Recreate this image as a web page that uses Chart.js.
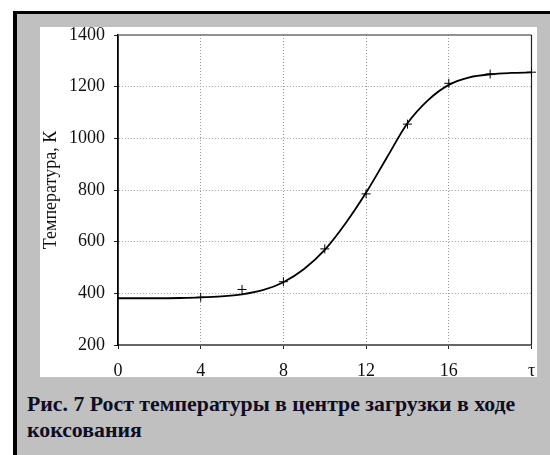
<!DOCTYPE html>
<html>
<head>
<meta charset="utf-8">
<script src="https://cdn.jsdelivr.net/npm/chart.js@4/dist/chart.umd.min.js"></script>
<style>
  html, body { margin: 0; padding: 0; background: #ffffff; }
  #page { position: relative; width: 550px; height: 455px; overflow: hidden; background: #ffffff; }
  #frameTop { position: absolute; left: 13px; top: 11px; width: 537px; height: 3px; background: #000; }
  #frameLeft { position: absolute; left: 13px; top: 11px; width: 4px; height: 444px; background: #000; }
  #panel { position: absolute; left: 17px; top: 14px; width: 533px; height: 441px; background: #c0c0c0; }
  #plotBox { position: absolute; left: 40px; top: 27px; width: 497px; height: 350px; background: #ffffff; overflow: hidden; }
  #caption {
    position: absolute; left: 27px; top: 391px; width: 523px;
    font-family: "Liberation Serif", "Times New Roman", serif; font-weight: bold;
    font-size: 21.8px; line-height: 26px; color: #0d0d24; white-space: nowrap;
  }
</style>
</head>
<body>
<div id="page">
  <div id="panel"></div>
  <div id="frameTop"></div>
  <div id="frameLeft"></div>
  <div id="plotBox"><canvas id="chart" width="497" height="350"></canvas></div>
  <div id="caption">Рис. 7 Рост температуры в центре загрузки в ходе<br>коксования</div>
</div>
<script>
// Smoothed temperature curve, time τ (h) vs temperature (K)
const tauCurve  = [0, 1, 2, 3, 4, 5, 6, 7, 8, 9, 10, 11, 12, 13, 14, 15, 16, 17, 18, 19, 20];
const tempCurve = [381, 381, 381, 382, 384, 388, 396, 412, 443, 494, 568, 670, 790, 925, 1058, 1148, 1207, 1236, 1248, 1253, 1255];

// Measured temperatures
const tauMeasured  = [4, 6, 8, 10, 12, 14, 16, 18, 20];
const tempMeasured = [385, 415, 445, 572, 785, 1055, 1213, 1249, 1256];

// Axis ticks
const xTickValues = [0, 4, 8, 12, 16, 20];
const xTickLabels = ['0', '4', '8', '12', '16', 'τ'];
const yTickValues = [200, 400, 600, 800, 1000, 1200, 1400];

const axisTitle = 'Температура, К';
const serif = '"Liberation Serif", "Times New Roman", serif';

const curvePoints = tauCurve.map((t, i) => ({ x: t, y: tempCurve[i] }));
const measuredPoints = tauMeasured.map((t, i) => ({ x: t, y: tempMeasured[i] }));

// Top and right frame lines of the plot area
const plotFrame = {
  id: 'plotFrame',
  beforeDatasetsDraw(chart) {
    const { ctx, chartArea: a } = chart;
    ctx.save();
    ctx.strokeStyle = '#6e6e6e';
    ctx.lineWidth = 1.5;
    ctx.beginPath();
    ctx.moveTo(a.left, a.top);
    ctx.lineTo(a.right, a.top);
    ctx.stroke();
    ctx.strokeStyle = '#222';
    ctx.lineWidth = 1.2;
    ctx.beginPath();
    ctx.moveTo(a.right, a.top);
    ctx.lineTo(a.right, a.bottom);
    ctx.stroke();
    ctx.restore();
  }
};

const xMin = xTickValues[0], xMax = xTickValues[xTickValues.length - 1];
const yMin = yTickValues[0], yMax = yTickValues[yTickValues.length - 1];

new Chart(document.getElementById('chart'), {
  type: 'scatter',
  data: {
    datasets: [
      {
        type: 'line',
        label: 'curve',
        data: curvePoints,
        borderColor: '#000',
        borderWidth: 1.8,
        pointRadius: 0,
        fill: false,
        cubicInterpolationMode: 'monotone',
        order: 2
      },
      {
        label: 'measured',
        data: measuredPoints,
        pointStyle: 'cross',
        pointRadius: 4.5,
        borderColor: '#000',
        backgroundColor: '#000',
        pointBorderWidth: 1,
        showLine: false,
        clip: false,
        order: 1
      }
    ]
  },
  options: {
    responsive: false,
    devicePixelRatio: 1,
    animation: false,
    layout: { padding: { top: 8, right: 5, left: 0, bottom: 0 } },
    plugins: { legend: { display: false }, tooltip: { enabled: false } },
    scales: {
      x: {
        type: 'linear',
        min: xMin,
        max: xMax,
        afterBuildTicks: s => { s.ticks = xTickValues.map(v => ({ value: v })); },
        afterFit: s => { s.height = 32; s.paddingLeft = 0; s.paddingRight = 0; },
        ticks: {
          font: { family: serif, size: 18 },
          color: '#111',
          padding: 11,
          maxRotation: 0,
          callback: v => xTickLabels[xTickValues.indexOf(v)]
        },
        grid: {
          color: c => (c.tick && (c.tick.value === xMin || c.tick.value === xMax)) ? 'rgba(0,0,0,0)' : '#9a9a9a',
          lineWidth: 1,
          tickColor: '#222',
          tickLength: 4,
          tickWidth: 1
        },
        border: { color: '#666', width: 2, dash: c => (c.tick ? [1, 2] : []) }
      },
      y: {
        type: 'linear',
        min: yMin,
        max: yMax,
        afterBuildTicks: s => { s.ticks = yTickValues.map(v => ({ value: v })); },
        afterFit: s => { s.width = 78; s.paddingTop = 0; s.paddingBottom = 0; },
        title: {
          display: true,
          text: axisTitle,
          font: { family: serif, size: 18 },
          color: '#111',
          padding: { top: 0, bottom: 0 }
        },
        ticks: {
          font: { family: serif, size: 18 },
          color: '#111',
          padding: 9,
          callback: v => String(v)
        },
        grid: {
          color: c => (c.tick && (c.tick.value === yMin || c.tick.value === yMax)) ? 'rgba(0,0,0,0)' : '#9a9a9a',
          lineWidth: 1,
          tickColor: '#222',
          tickLength: 4,
          tickWidth: 1
        },
        border: { color: '#000', width: 1.8, dash: c => (c.tick ? [1, 2] : []) }
      }
    }
  },
  plugins: [plotFrame]
});
</script>
</body>
</html>
